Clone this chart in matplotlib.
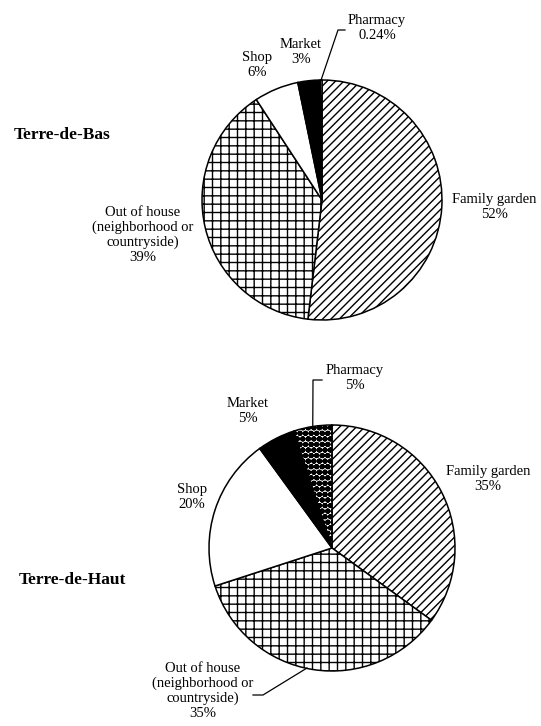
import numpy as np
import matplotlib
matplotlib.use("Agg")
from matplotlib import pyplot as plt

# data
categories = ["Family garden", "Out of house\n(neighborhood or\ncountryside)", "Shop", "Market", "Pharmacy"]
bas_values = [52, 39, 6, 3, 0.24]
bas_pct = ["52%", "39%", "6%", "3%", "0.24%"]
haut_values = [35, 35, 20, 5, 5]
haut_pct = ["35%", "35%", "20%", "5%", "5%"]
island_names = ["Terre-de-Bas", "Terre-de-Haut"]

W, H = 541, 726
plt.rcParams["font.family"] = ["Liberation Serif", "DejaVu Serif"]
plt.rcParams["hatch.linewidth"] = 1.0

fig = plt.figure(figsize=(W / 100, H / 100), dpi=100)
ax = fig.add_axes([0, 0, 1, 1])
ax.set_aspect("equal")


def Y(py):
    # pixel row (from top) -> data y
    return H - py


facecolors = ["white", "white", "white", "black", "white"]


def draw_pie(values, hatches, center, radius):
    wedges, _ = ax.pie(
        values,
        center=(center[0], Y(center[1])),
        radius=radius,
        startangle=90,
        counterclock=False,
        colors=facecolors,
        wedgeprops=dict(edgecolor="black", linewidth=1.1),
        frame=True,
    )
    for w, h in zip(wedges, hatches):
        w.set_hatch(h)
    return wedges


def edge_point(wedge, center, radius):
    ang = np.deg2rad((wedge.theta1 + wedge.theta2) / 2)
    return center[0] + radius * np.cos(ang), Y(center[1]) + radius * np.sin(ang)


def put_labels(pcts, positions):
    for cat, pct, (x, y) in zip(categories, pcts, positions):
        ax.text(x, Y(y), f"{cat}\n{pct}", ha="center", va="center",
                fontsize=10.5, linespacing=1.15)


# Terre-de-Bas
c1, r1 = (322, 200), 120
w1 = draw_pie(bas_values, ["////", "++", "", "", ""], c1, r1)
put_labels(bas_pct, [(494, 207), (143, 235), (257, 65), (301, 52), (377, 28)])
sx, sy = edge_point(w1[4], c1, r1)
ax.plot([sx, 338, 345], [sy, Y(30), Y(30)], color="black", lw=0.9)

# Terre-de-Haut
c2, r2 = (332, 548), 123
w2 = draw_pie(haut_values, ["////", "++", "", "", "OOO..."], c2, r2)
put_labels(haut_pct, [(488, 479), (203, 691), (192, 497), (248, 411), (355, 378)])
sx, sy = edge_point(w2[4], c2, r2)
ax.plot([sx, 313, 322], [sy, Y(380), Y(380)], color="black", lw=0.9)
ax.plot([307, 263, 253], [Y(668), Y(695), Y(695)], color="black", lw=0.9)

ax.text(62, Y(135), island_names[0], ha="center", va="center", fontsize=12.5, fontweight="bold")
ax.text(72, Y(580), island_names[1], ha="center", va="center", fontsize=12.5, fontweight="bold")

ax.set_xlim(0, W)
ax.set_ylim(0, H)
ax.axis("off")
fig.savefig("out.png", dpi=100)
